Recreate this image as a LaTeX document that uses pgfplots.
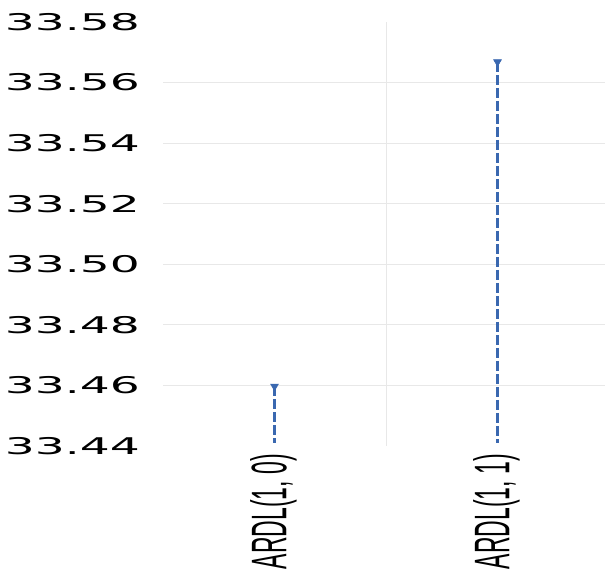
\documentclass[border=0pt]{standalone}
\usepackage{pgfplots}
\pgfplotsset{compat=1.18}
\usepackage{fontspec}
\setmainfont{Liberation Sans}
\newfontfamily\tickfont{DejaVu Sans}
\newfontfamily\labfont{Liberation Sans}
\definecolor{lineblue}{HTML}{3A68B0}
\definecolor{gridgray}{HTML}{E8E8E8}
\begin{document}
\begin{tikzpicture}
\begin{axis}[
  at={(163pt,127pt)}, anchor=south west,
  scale only axis, width=442pt, height=424pt,
  xmin=-0.5, xmax=1.482, ymin=33.44, ymax=33.58,
  axis line style={draw=none},
  major tick length=0pt,
  xtick={0,1},
  xticklabels={\scalebox{0.46}[1]{ARDL(1, 0)},\scalebox{0.46}[1]{ARDL(1, 1)}},
  xticklabel style={rotate=90, anchor=east, inner sep=0pt, xshift=-8pt, yshift=1pt, font=\fontsize{50}{50}\labfont\selectfont},
  ytick={33.46,33.48,...,33.561},
  extra y ticks={33.44,33.58},
  extra y tick style={grid=none},
  extra x ticks={0.5},
  extra x tick labels={},
  extra x tick style={grid=major},
  ymajorgrids=true,
  major grid style={gridgray, line width=0.9pt},
  /pgf/number format/assume math mode=true,
  yticklabel style={/pgf/number format/.cd, fixed, fixed zerofill, precision=2, /tikz/.cd, anchor=east, inner sep=0pt, xshift=-23pt},
  yticklabel={\scalebox{2.05}[1]{\fontsize{23}{23}\tickfont\selectfont\pgfmathprintnumber{\tick}}},
  clip=false,
]
\addplot[lineblue, line width=2.6pt, dash pattern=on 10pt off 3pt,
  mark=triangle*, mark indices={1}, mark options={solid, rotate=180, scale=1.0, line width=0.5pt, fill=lineblue, draw=lineblue}, mark size=4.5pt]
  coordinates {(0,33.4597) (0,33.441)};
\addplot[lineblue, line width=2.6pt, dash pattern=on 10pt off 3pt,
  mark=triangle*, mark indices={1}, mark options={solid, rotate=180, scale=1.0, line width=0.5pt, fill=lineblue, draw=lineblue}, mark size=4.5pt]
  coordinates {(1,33.5668) (1,33.441)};
\end{axis}
\pgfresetboundingbox
\useasboundingbox (0,0) rectangle (605pt,573pt);
\end{tikzpicture}
\end{document}
